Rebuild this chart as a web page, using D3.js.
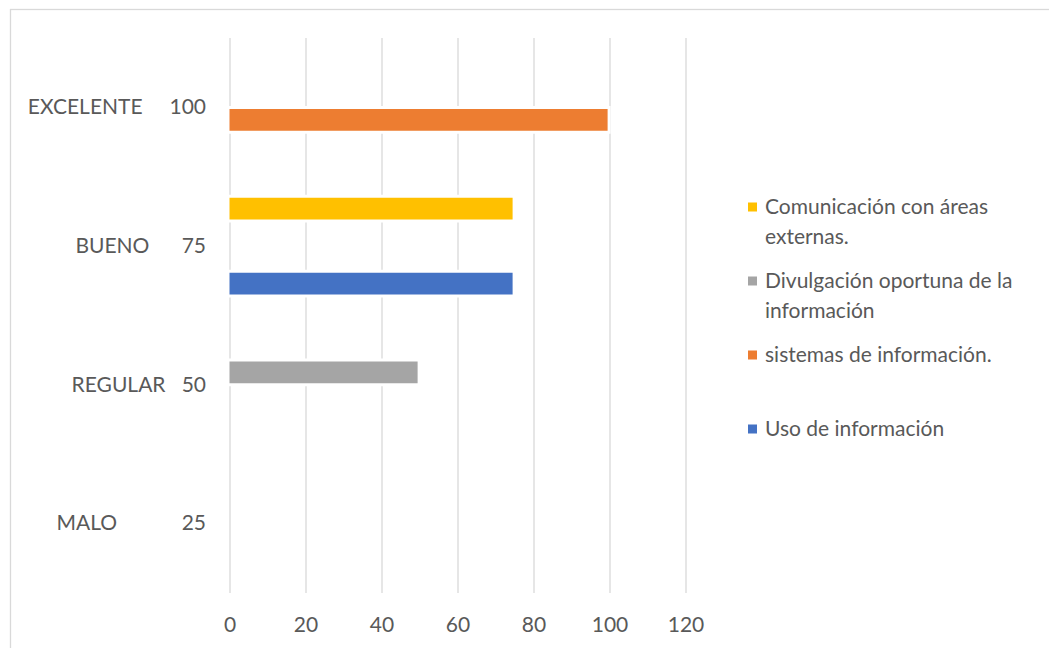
<!DOCTYPE html>
<html>
<head>
<meta charset="utf-8">
<script src="https://cdn.jsdelivr.net/npm/d3@7"></script>
<style>
  body { margin: 0; background: #fff; }
  text { font-family: Lato, "Open Sans", sans-serif; fill: #595959; }
</style>
</head>
<body>
<svg id="chart"></svg>
<script>
// categories (top to bottom) and their score labels
const categories = ["EXCELENTE", "BUENO", "REGULAR", "MALO"];
const scores = ["100", "75", "50", "25"];
// spaces between name and score, as typed in the original labels
const labelGaps = [5, 6, 3, 12];

// series, values per category (null = no bar)
const seriesNames = ["Uso de información", "sistemas de información.", "Divulgación oportuna de la información", "Comunicación con áreas externas."];
const seriesColors = ["#4472C4", "#ED7D31", "#A5A5A5", "#FFC000"];
const usoValues = [null, 74.5, null, null];
const sistemasValues = [99.5, null, null, null];
const divulgacionValues = [null, null, 49.5, null];
const comunicacionValues = [null, 74.5, null, null];
const xTicks = [0, 20, 40, 60, 80, 100, 120];

const seriesValues = [usoValues, sistemasValues, divulgacionValues, comunicacionValues];

var width = 1049,
    height = 648,
    margin = {top: 38, right: 363.5, bottom: 55, left: 229.5},
    fontSize = 21;

let svg = d3.select("#chart")
    .attr("width", width)
    .attr("height", height);

// chart area border
svg.append("rect")
    .attr("x", 10.5)
    .attr("y", 9.5)
    .attr("width", 1100)
    .attr("height", 700)
    .attr("fill", "none")
    .attr("stroke", "#d9d9d9")
    .attr("stroke-width", 1.3);

let x = d3.scaleLinear()
    .domain([0, 120])
    .range([margin.left, width - margin.right]);

let y = d3.scaleBand()
    .domain(categories)
    .range([margin.top, height - margin.bottom]);

// series inside a category: first series at the bottom
let inner = d3.scaleBand()
    .domain(d3.range(seriesNames.length).reverse())
    .range([0, y.bandwidth()])
    .paddingInner(0.13)
    .paddingOuter(0.84);

// vertical gridlines
svg.append("g")
    .attr("transform", `translate(0, ${height - margin.bottom})`)
    .call(d3.axisBottom(x).tickValues(xTicks)
        .tickSize(-(height - margin.bottom - margin.top)).tickFormat(""))
    .call(g => g.select(".domain").remove())
    .call(g => g.selectAll("line").attr("stroke", "#d9d9d9").attr("stroke-width", 1.3));

// x axis labels
svg.append("g")
    .attr("transform", `translate(0, ${height - margin.bottom})`)
    .call(d3.axisBottom(x).tickValues(xTicks).tickSize(0).tickPadding(24))
    .call(g => g.select(".domain").remove())
    .call(g => g.selectAll("text")
        .style("font-family", "Lato")
        .style("font-size", fontSize + "px")
        .attr("fill", "#595959"));

// y axis labels (name + score in one string)
svg.append("g")
    .attr("transform", `translate(${margin.left}, 0)`)
    .call(d3.axisLeft(y).tickSize(0).tickPadding(23.5)
        .tickFormat((d, i) => d + " ".repeat(labelGaps[i]) + scores[i]))
    .call(g => g.select(".domain").remove())
    .call(g => g.selectAll("text")
        .style("font-family", "Lato")
        .style("font-size", fontSize + "px")
        .style("white-space", "pre")
        .attr("fill", "#595959"));

// bars
let barData = [];
seriesValues.forEach((vals, s) => {
    vals.forEach((v, c) => {
        if (v != null) barData.push({series: s, category: categories[c], value: v});
    });
});

svg.append("g")
    .selectAll("rect")
    .data(barData)
    .join("rect")
    .attr("x", x(0))
    .attr("y", d => y(d.category) + inner(d.series))
    .attr("width", d => x(d.value) - x(0))
    .attr("height", inner.bandwidth())
    .attr("fill", d => seriesColors[d.series])
    .attr("stroke", "#fff")
    .attr("stroke-width", 6)
    .style("paint-order", "stroke");

// legend (reverse order, fixed entry height)
let legendX = 748,
    legendY = 207,
    legendStep = 74,
    lineHeight = 30,
    wrapWidth = 268;

let legend = svg.append("g");
let order = d3.range(seriesNames.length).reverse();

order.forEach((s, i) => {
    let cy = legendY + i * legendStep;
    legend.append("rect")
        .attr("x", legendX)
        .attr("y", cy - 4.5)
        .attr("width", 9)
        .attr("height", 9)
        .attr("fill", seriesColors[s]);

    let text = legend.append("text")
        .style("font-size", fontSize + "px");

    // wrap words to the legend width
    let words = seriesNames[s].split(" ");
    let line = [];
    let lineNo = 0;
    let newLine = () => text.append("tspan")
        .attr("x", legendX + 17)
        .attr("y", cy + lineNo * lineHeight)
        .attr("dy", "0.35em");
    let tspan = newLine();
    for (let w of words) {
        line.push(w);
        tspan.text(line.join(" "));
        if (tspan.node().getComputedTextLength() > wrapWidth && line.length > 1) {
            line.pop();
            tspan.text(line.join(" "));
            line = [w];
            lineNo++;
            tspan = newLine().text(w);
        }
    }
});
</script>
</body>
</html>
